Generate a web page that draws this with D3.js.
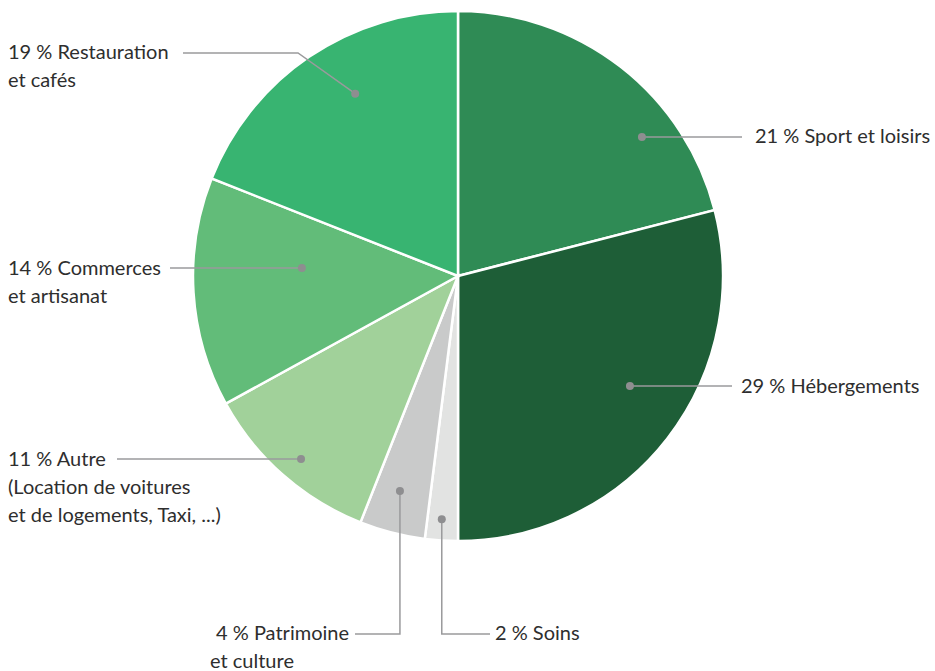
<!DOCTYPE html>
<html>
<head>
<meta charset="utf-8">
<script src="https://d3js.org/d3.v7.min.js"></script>
<style>
  body { margin: 0; background: #fff; }
  text { font-family: Lato, "Open Sans", sans-serif; font-size: 20px; font-weight: 400; fill: #2e2e2e; }
</style>
</head>
<body>
<div id="chart"></div>
<script>
// Data (clockwise from 12 o'clock)
const categories = ['Sport et loisirs', 'Hébergements', 'Soins', 'Patrimoine et culture',
  'Autre', 'Commerces et artisanat', 'Restauration et cafés'];
const shares = [21, 29, 2, 4, 11, 14, 19];
const labelLines = [
  ['21 % Sport et loisirs'],
  ['29 % Hébergements'],
  ['2 % Soins'],
  ['4 % Patrimoine', 'et culture'],
  ['11 % Autre', '(Location de voitures', 'et de logements, Taxi, ...)'],
  ['14 % Commerces', 'et artisanat'],
  ['19 % Restauration', 'et cafés']
];
const colors = ['#2f8b55', '#1e5e37', '#e2e3e2', '#c9caca', '#a1d19a', '#62bc79', '#38b471'];

const width = 935, height = 671;
const cx = 458, cy = 276, radius = 265;

// where each callout dot sits: position inside slice (0..1) and radius fraction
const anchors = [[0.70, 0.87], [0.45, 0.77], [0.53, 0.92], [0.55, 0.84],
  [0.48, 0.91], [0.63, 0.59], [0.57, 0.79]];

const svg = d3.select('#chart').append('svg')
  .attr('width', width)
  .attr('height', height);

const g = svg.append('g').attr('transform', `translate(${cx},${cy})`);

const pie = d3.pie().sort(null).value(d => d);
const arcs = pie(shares);
const arc = d3.arc().innerRadius(0).outerRadius(radius);

g.selectAll('path.slice')
  .data(arcs)
  .enter()
  .append('path')
  .attr('class', 'slice')
  .attr('d', arc)
  .attr('fill', (d, i) => colors[i])
  .attr('stroke', '#fff')
  .attr('stroke-width', 2.5);

// anchor point of each callout
function dot(d, i) {
  const a = d.startAngle + (d.endAngle - d.startAngle) * anchors[i][0];
  const r = radius * anchors[i][1];
  return [cx + r * Math.sin(a), cy - r * Math.cos(a)];
}

// callout paths: elbow points, text position and anchor
const callouts = arcs.map((d, i) => {
  const [x, y] = dot(d, i);
  switch (i) {
    case 0: return { pts: [[x, y], [742, y]], tx: 755, ty: y + 6, anchor: 'start' };
    case 1: return { pts: [[x, y], [732, y]], tx: 741, ty: y + 7, anchor: 'start' };
    case 2: return { pts: [[x, y], [x, 634], [490, 634]], tx: 495, ty: 640, anchor: 'start' };
    case 3: return { pts: [[x, y], [x, 634], [355, 634]], tx: 349, ty: 640, anchor: 'end', x2: 210 };
    case 4: return { pts: [[x, y], [117, y]], tx: 8, ty: y + 7, anchor: 'start' };
    case 5: return { pts: [[x, y], [170, y]], tx: 8, ty: y + 7, anchor: 'start' };
    case 6: return { pts: [[x, y], [298, 53], [183, 53]], tx: 8, ty: 59, anchor: 'start' };
  }
});

svg.selectAll('path.leader')
  .data(callouts)
  .enter()
  .append('path')
  .attr('class', 'leader')
  .attr('d', c => d3.line()(c.pts))
  .attr('fill', 'none')
  .attr('stroke', '#9a9a9c')
  .attr('stroke-width', 1.5);

svg.selectAll('circle.dot')
  .data(callouts)
  .enter()
  .append('circle')
  .attr('class', 'dot')
  .attr('cx', c => c.pts[0][0])
  .attr('cy', c => c.pts[0][1])
  .attr('r', 4)
  .attr('fill', '#8e8e90');

const labels = svg.selectAll('text.label')
  .data(callouts)
  .enter()
  .append('text')
  .attr('class', 'label')
  .attr('y', c => c.ty);

labels.each(function(c, i) {
  const t = d3.select(this);
  labelLines[i].forEach((line, j) => {
    const span = t.append('tspan').text(line).attr('y', c.ty + j * 28);
    if (j === 0) {
      span.attr('x', c.tx).attr('text-anchor', c.anchor);
    } else {
      span.attr('x', c.x2 !== undefined ? c.x2 : c.tx).attr('text-anchor', 'start');
    }
  });
});
</script>
</body>
</html>
